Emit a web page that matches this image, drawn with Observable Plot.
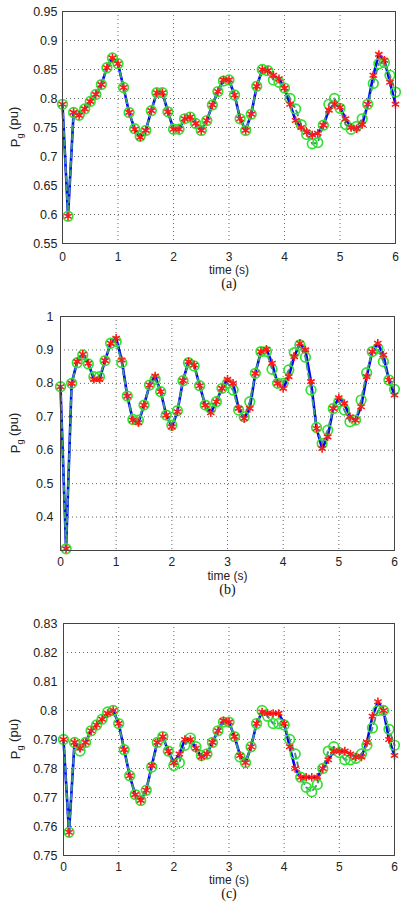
<!DOCTYPE html>
<html>
<head>
<meta charset="utf-8">
<script src="https://cdn.jsdelivr.net/npm/d3@7"></script>
<script src="https://cdn.jsdelivr.net/npm/@observablehq/plot@0.6"></script>
<style>
  html, body { margin: 0; padding: 0; background: #fff; width: 404px; height: 904px; overflow: hidden; }
  .panel svg { display: block; }
</style>
</head>
<body>
<div id="pa" class="panel"></div>
<div id="pb" class="panel"></div>
<div id="pc" class="panel"></div>
<script>
const time = [0,0.1,0.2,0.3,0.4,0.5,0.6,0.7,0.8,0.9,1,1.1,1.2,1.3,1.4,1.5,1.6,1.7,1.8,1.9,2,2.1,2.2,2.3,2.4,2.5,2.6,2.7,2.8,2.9,3,3.1,3.2,3.3,3.4,3.5,3.6,3.7,3.8,3.9,4,4.1,4.2,4.3,4.4,4.5,4.6,4.7,4.8,4.9,5,5.1,5.2,5.3,5.4,5.5,5.6,5.7,5.8,5.9,6];
const xTicks = [0,1,2,3,4,5,6];

// Panel (a)
const aStar = [0.790,0.597,0.776,0.771,0.782,0.795,0.807,0.824,0.853,0.870,0.860,0.819,0.776,0.747,0.733,0.745,0.779,0.810,0.810,0.777,0.747,0.747,0.765,0.768,0.757,0.745,0.762,0.789,0.812,0.832,0.832,0.806,0.765,0.745,0.773,0.821,0.850,0.848,0.840,0.834,0.818,0.790,0.762,0.750,0.742,0.737,0.740,0.754,0.780,0.790,0.785,0.765,0.750,0.748,0.755,0.790,0.840,0.876,0.866,0.828,0.790];
const aCirc = [0.790,0.597,0.776,0.771,0.782,0.795,0.807,0.824,0.853,0.870,0.860,0.819,0.776,0.748,0.735,0.745,0.779,0.810,0.810,0.777,0.747,0.747,0.765,0.768,0.757,0.745,0.762,0.789,0.812,0.830,0.832,0.806,0.765,0.745,0.773,0.821,0.850,0.848,0.832,0.828,0.818,0.800,0.782,0.755,0.738,0.722,0.724,0.754,0.790,0.800,0.783,0.755,0.747,0.752,0.765,0.790,0.826,0.860,0.862,0.840,0.811];
const aTicks = [0.55,0.6,0.65,0.7,0.75,0.8,0.85,0.9,0.95];

// Panel (b)
const bStar = [0.790,0.305,0.800,0.865,0.887,0.860,0.812,0.812,0.868,0.920,0.935,0.870,0.762,0.690,0.682,0.735,0.795,0.822,0.775,0.705,0.670,0.715,0.808,0.865,0.855,0.793,0.735,0.712,0.745,0.785,0.812,0.800,0.725,0.695,0.725,0.830,0.895,0.902,0.860,0.800,0.785,0.820,0.880,0.920,0.900,0.805,0.665,0.605,0.640,0.725,0.757,0.740,0.700,0.690,0.730,0.820,0.895,0.920,0.885,0.810,0.765];
const bCirc = [0.790,0.305,0.800,0.862,0.885,0.858,0.820,0.820,0.868,0.920,0.925,0.862,0.762,0.692,0.690,0.735,0.795,0.812,0.775,0.705,0.675,0.718,0.808,0.862,0.852,0.793,0.735,0.725,0.745,0.785,0.800,0.780,0.720,0.700,0.745,0.830,0.895,0.895,0.842,0.800,0.800,0.840,0.892,0.915,0.878,0.780,0.668,0.620,0.660,0.725,0.745,0.720,0.685,0.690,0.750,0.832,0.895,0.905,0.865,0.810,0.782];
const bTicks = [0.4,0.5,0.6,0.7,0.8,0.9,1];

// Panel (c)
const cStar = [0.790,0.758,0.789,0.787,0.789,0.793,0.795,0.797,0.799,0.800,0.7955,0.7865,0.7775,0.771,0.769,0.7725,0.781,0.789,0.791,0.786,0.782,0.785,0.790,0.790,0.787,0.784,0.785,0.789,0.793,0.7965,0.796,0.791,0.7845,0.782,0.7875,0.7955,0.7995,0.799,0.799,0.799,0.7955,0.7875,0.780,0.777,0.777,0.777,0.777,0.780,0.783,0.786,0.786,0.786,0.785,0.784,0.784,0.789,0.798,0.803,0.800,0.790,0.7845];
const cCirc = [0.790,0.758,0.789,0.786,0.789,0.793,0.795,0.797,0.7995,0.800,0.7955,0.7865,0.7775,0.771,0.769,0.7725,0.7805,0.789,0.791,0.786,0.781,0.782,0.788,0.7905,0.7875,0.7845,0.785,0.789,0.793,0.796,0.796,0.791,0.784,0.782,0.7875,0.7955,0.800,0.798,0.7955,0.7955,0.795,0.790,0.785,0.777,0.7735,0.772,0.7745,0.780,0.786,0.7875,0.7855,0.783,0.783,0.7835,0.785,0.788,0.794,0.800,0.800,0.7935,0.788];
const cTicks = [0.75,0.76,0.77,0.78,0.79,0.8,0.81,0.82,0.83];

const fmt = d => String(+d.toFixed(3));

function panel(sel, cfg) {
  const rows = time.map((t, i) => ({t, s: cfg.star[i], c: cfg.circ[i]}));
  const grid = {stroke: "#000", strokeOpacity: 0.6, strokeDasharray: "1,3", strokeWidth: 1};
  const svg = Plot.plot({
    width: 404,
    height: cfg.height,
    marginTop: cfg.mt,
    marginBottom: cfg.height - cfg.frameBottom,
    marginLeft: cfg.ml,
    marginRight: cfg.mr,
    style: {fontFamily: "'Liberation Sans', Arial, sans-serif", fontSize: "12px", background: "#fff", color: "#222"},
    x: {domain: [0, 6], label: null},
    y: {domain: cfg.yDomain, label: null},
    marks: [
      Plot.gridX(xTicks, grid),
      Plot.gridY(cfg.yTicks, grid),
      Plot.axisX(xTicks, {tickSize: 0, tickPadding: cfg.xPad, tickFormat: fmt, label: null}),
      Plot.axisY(cfg.yTicks, {tickSize: 0, tickPadding: cfg.yPad, tickFormat: fmt, label: null, fontSize: 12.5}),
      Plot.line(rows, {x: "t", y: "s", stroke: "#0000ff", strokeWidth: 2.6}),
      Plot.line(rows, {x: "t", y: "c", stroke: "#3a9a78", strokeWidth: 2, strokeDasharray: "5,4"}),
      Plot.dot(rows, {x: "t", y: "c", r: 4.8, stroke: "#33e033", strokeWidth: 1.7, fill: "none"}),
      Plot.dot(rows, {x: "t", y: "s", r: 4, symbol: "asterisk", stroke: "#ff1a1a", strokeWidth: 1.6}),
      Plot.frame({stroke: "#444", strokeWidth: 1}),
      Plot.text(["time (s)"], {text: d => d, frameAnchor: "bottom", dy: cfg.timeDy, fontSize: 12, fill: "#222"}),
      Plot.text([cfg.caption], {text: d => d, frameAnchor: "bottom", dy: cfg.capDy, fontSize: 14, fontFamily: "'Liberation Serif', 'Times New Roman', serif", fill: "#111"})
    ]
  });
  const cy = (cfg.mt + cfg.frameBottom) / 2;
  const lab = d3.select(svg).append("text")
    .attr("transform", `translate(19.5,${cy}) rotate(-90)`)
    .attr("text-anchor", "middle")
    .attr("font-family", "'Liberation Sans', Arial, sans-serif")
    .attr("font-size", 13)
    .attr("fill", "#222");
  lab.append("tspan").text("P");
  lab.append("tspan").attr("font-size", 9).attr("dy", "0.35em").text("g");
  lab.append("tspan").attr("dy", "-0.35em").text(" (pu)");
  document.querySelector(sel).appendChild(svg);
}

panel("#pa", {star: aStar, circ: aCirc, yDomain: [0.55, 0.95], yTicks: aTicks,
  height: 300, mt: 11, frameBottom: 243, ml: 62, mr: 9, xPad: 9, yPad: 5, timeDy: 30, capDy: 44, caption: "(a)"});
panel("#pb", {star: bStar, circ: bCirc, yDomain: [0.3, 1], yTicks: bTicks,
  height: 305, mt: 16, frameBottom: 250, ml: 60, mr: 10, xPad: 7, yPad: 7, timeDy: 29, capDy: 43, caption: "(b)"});
panel("#pc", {star: cStar, circ: cCirc, yDomain: [0.75, 0.83], yTicks: cTicks,
  height: 299, mt: 18, frameBottom: 250, ml: 63, mr: 10, xPad: 7, yPad: 6, timeDy: 28, capDy: 42, caption: "(c)"});
</script>
</body>
</html>
